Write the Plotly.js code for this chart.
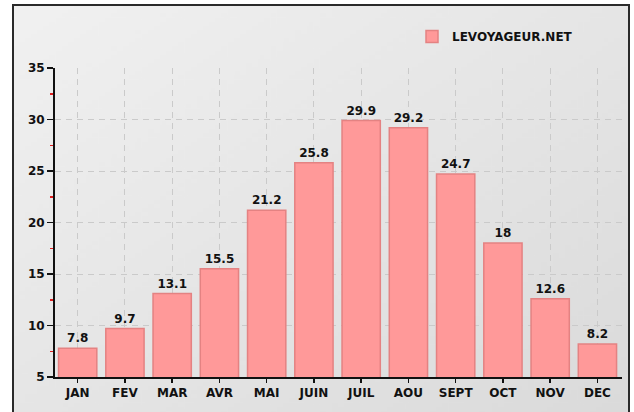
<!DOCTYPE html>
<html>
<head>
<meta charset="utf-8">
<script src="https://cdn.plot.ly/plotly-3.0.1.min.js"></script>
<style>
html,body{margin:0;padding:0;background:#fff;}
#chart{width:634px;height:412px;}
</style>
</head>
<body>
<div id="chart"></div>
<script>
// Data
const months = ["JAN","FEV","MAR","AVR","MAI","JUIN","JUIL","AOU","SEPT","OCT","NOV","DEC"];
const temps = [7.8, 9.7, 13.1, 15.5, 21.2, 25.8, 29.9, 29.2, 24.7, 18, 12.6, 8.2];
const seriesName = "LEVOYAGEUR.NET";
const yTicks = [5, 10, 15, 20, 25, 30, 35];

// Background gradient image (style only)
function gradientURL() {
  const c = document.createElement('canvas');
  c.width = 200; c.height = 200;
  const g = c.getContext('2d');
  const lg = g.createLinearGradient(0, 0, 200, 200);
  lg.addColorStop(0, '#f1f1f1');
  lg.addColorStop(1, '#dadada');
  g.fillStyle = lg;
  g.fillRect(0, 0, 200, 200);
  return c.toDataURL();
}

const W = 634, H = 412;
const L = 55, R = 12, T = 68, B = 35;
const pw = W - L - R, ph = H - T - B;
const px = v => (v - L) / pw;
const py = v => (H - B - v) / ph;

const font = {family: "DejaVu Sans, sans-serif", size: 12, color: "#111", weight: "bold"};

const trace = {
  type: "bar",
  x: months,
  y: temps,
  name: seriesName,
  marker: {color: "#ff9999", line: {color: "#e48282", width: 1.5}},
  text: temps.map(String),
  textposition: "outside",
  textfont: font,
  cliponaxis: false,
  showlegend: true,
  hoverinfo: "skip"
};

const layout = {
  width: W, height: H,
  margin: {l: L, r: R, t: T, b: B, pad: 0},
  paper_bgcolor: "#ffffff",
  plot_bgcolor: "rgba(0,0,0,0)",
  bargap: 0.19,
  showlegend: true,
  legend: {
    x: px(412), y: py(22), xanchor: "left", yanchor: "top",
    orientation: "h", bgcolor: "rgba(0,0,0,0)",
    font: font, itemwidth: 30
  },
  images: [{
    source: gradientURL(), xref: "paper", yref: "paper",
    x: px(14), y: py(6), sizex: px(628) - px(14), sizey: py(6) - py(420),
    sizing: "stretch", layer: "below", xanchor: "left", yanchor: "top"
  }],
  shapes: [{
    type: "rect", xref: "paper", yref: "paper",
    x0: px(13), x1: px(629), y0: py(5), y1: py(430),
    line: {color: "#2a2a2a", width: 2}, fillcolor: "rgba(0,0,0,0)", layer: "above"
  }],
  xaxis: {
    type: "category",
    range: [-0.48, 11.52],
    showline: true, linecolor: "#111", linewidth: 2,
    ticks: "outside", ticklen: 4, tickcolor: "#111", tickwidth: 1.5,
    showgrid: true, gridcolor: "#cacaca", griddash: "6px,5px", gridwidth: 1,
    tickfont: font, fixedrange: true
  },
  yaxis: {
    range: [5, 35],
    tickvals: yTicks,
    showline: true, linecolor: "#111", linewidth: 2,
    ticks: "outside", ticklen: 6, tickcolor: "#111", tickwidth: 1.5,
    showgrid: true, gridcolor: "#cacaca", griddash: "6px,5px", gridwidth: 1,
    zeroline: false,
    minor: {dtick: 2.5, tick0: 7.5, ticks: "outside", ticklen: 3, tickcolor: "#e02020", tickwidth: 1.5, showgrid: false},
    tickfont: font, fixedrange: true
  }
};

Plotly.newPlot("chart", [trace], layout, {displayModeBar: false, staticPlot: true});
</script>
</body>
</html>
